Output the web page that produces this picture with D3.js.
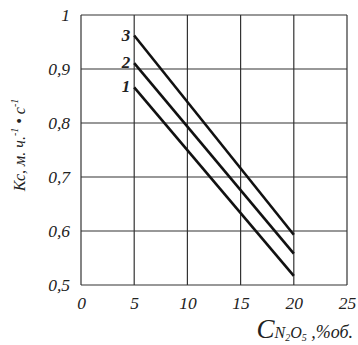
<!DOCTYPE html>
<html><head><meta charset="utf-8">
<script src="https://cdn.jsdelivr.net/npm/d3@7"></script>
<style>body{margin:0;background:#fff;}svg{display:block;} text{font-family:"Liberation Serif","DejaVu Serif",serif;}</style>
</head><body>
<svg id="c" width="358" height="345"></svg>
<script>
const xTicks = [0, 5, 10, 15, 20, 25];
const yTicks = [0.5, 0.6, 0.7, 0.8, 0.9, 1];
const yTickLabels = ["0,5", "0,6", "0,7", "0,8", "0,9", "1"];
const seriesNames = ["1", "2", "3"];
const seriesX = [5, 20];
const series1 = [0.866, 0.517];
const series2 = [0.911, 0.558];
const series3 = [0.962, 0.593];
const seriesValues = [series1, series2, series3];

const svg = d3.select("#c");
const m = {l: 81, r: 347, t: 15, b: 285};
const x = d3.scaleLinear().domain([0, 25]).range([m.l, m.r]);
const y = d3.scaleLinear().domain([0.5, 1]).range([m.b, m.t]);
const font = '"Liberation Serif","DejaVu Serif",serif';
const gridCol = "#333";

// grid
svg.append("g").selectAll("line").data(xTicks).join("line")
  .attr("x1", d => x(d)).attr("x2", d => x(d))
  .attr("y1", m.t).attr("y2", m.b)
  .attr("stroke", gridCol).attr("stroke-width", 1.2);
svg.append("g").selectAll("line").data(yTicks).join("line")
  .attr("x1", m.l).attr("x2", m.r)
  .attr("y1", d => y(d)).attr("y2", d => y(d))
  .attr("stroke", gridCol).attr("stroke-width", 1.2);

// axes labels via d3 axes
const xAxis = d3.axisBottom(x).tickValues(xTicks).tickSize(0).tickPadding(12).tickFormat(d3.format("d"));
const gx = svg.append("g").attr("transform", `translate(0,${m.b})`).call(xAxis);
gx.attr("font-family", null).attr("font-size", null);
gx.select(".domain").remove();
gx.selectAll("text").style("font-family", font).style("font-style", "italic")
  .style("font-size", "17.5px").attr("fill", "#222");

const yAxis = d3.axisLeft(y).tickValues(yTicks).tickSize(0).tickPadding(11)
  .tickFormat((d, i) => yTickLabels[i]);
const gy = svg.append("g").attr("transform", `translate(${m.l},0)`).call(yAxis);
gy.attr("font-family", null).attr("font-size", null);
gy.select(".domain").remove();
gy.selectAll("text").style("font-family", font).style("font-style", "italic")
  .style("font-size", "17.5px").attr("fill", "#222");

// series
const line = d3.line().x((d, i) => x(seriesX[i])).y(d => y(d));
svg.append("g").selectAll("path").data(seriesValues).join("path")
  .attr("d", d => line(d)).attr("fill", "none")
  .attr("stroke", "#111").attr("stroke-width", 2.6);

// series labels
svg.append("g").selectAll("text").data(seriesValues).join("text")
  .attr("x", x(seriesX[0]) - 4).attr("y", d => y(d[0]) + 5)
  .attr("text-anchor", "end")
  .style("font-family", font).style("font-style", "italic").style("font-weight", "bold")
  .style("font-size", "17px").attr("fill", "#222")
  .text((d, i) => seriesNames[i]);

// y title
const yt = svg.append("text")
  .attr("transform", "translate(25,145) rotate(-90)")
  .attr("text-anchor", "middle")
  .style("font-family", font).style("font-style", "italic")
  .style("font-size", "16px").attr("fill", "#222");
yt.append("tspan").text("Кс, м. ч.");
yt.append("tspan").attr("dy", -7).style("font-size", "10px").text("-1");
yt.append("tspan").attr("dy", 7).text(" • с");
yt.append("tspan").attr("dy", -7).style("font-size", "10px").text("-1");

// x title
const xt = svg.append("text")
  .attr("x", 353).attr("y", 338)
  .attr("text-anchor", "end")
  .style("font-family", font).style("font-style", "italic")
  .attr("fill", "#222");
xt.append("tspan").style("font-size", "27px").text("C");
xt.append("tspan").style("font-size", "16px").text("N");
xt.append("tspan").style("font-size", "10px").attr("dy", 3).text("2");
xt.append("tspan").style("font-size", "16px").attr("dy", -3).text("O");
xt.append("tspan").style("font-size", "10px").attr("dy", 3).text("5");
xt.append("tspan").style("font-size", "18px").attr("dy", -3).text(" ,%об.");
</script>
</body></html>
